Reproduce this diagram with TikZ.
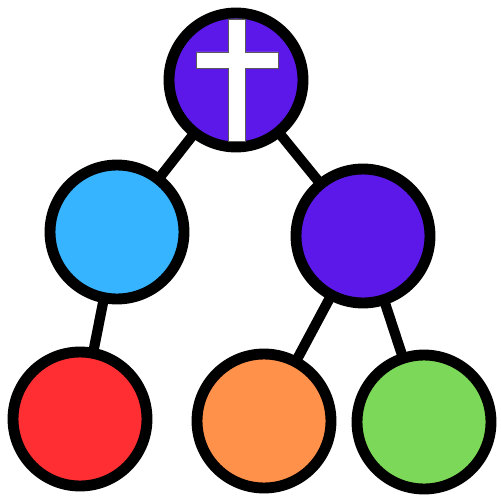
\documentclass[tikz,border=0pt]{standalone}
\usepackage{xcolor}
\usepackage{tikz}
\usetikzlibrary{backgrounds}

\definecolor{treepurple}{HTML}{5B18E9}
\definecolor{treeblue}{HTML}{36B4FF}
\definecolor{treered}{HTML}{FF2E33}
\definecolor{treeorange}{HTML}{FF914A}
\definecolor{treegreen}{HTML}{7CD858}

\begin{document}
\begin{tikzpicture}[
  x=0.02cm, y=-0.02cm,
  ball/.style={circle, draw=black, line width=6.2pt, minimum size=2.68cm, inner sep=0pt},
  link/.style={draw=black, line width=5.8pt},
  crossbar/.style={fill=white, draw=black!65, line width=0.5pt}
]
  \useasboundingbox (0,0) rectangle (500,500);
  \foreach \n/\x/\y/\c in {root/236/80/treepurple, kidl/117/232/treeblue, kidr/363/236/treepurple,
      leafa/80/419/treered, leafb/264/421/treeorange, leafc/424/422/treegreen} {
    \node[ball, fill=\c] (\n) at (\x,\y) {};
  }
  \begin{scope}[on background layer]
    \draw[link] (root.center) -- (kidl.center);
    \draw[link] (root.center) -- (kidr.center);
    \draw[link] (kidl.center) -- (leafa.center);
    \draw[link] (kidr.center) -- (leafb.center);
    \draw[link] (kidr.center) -- (leafc.center);
  \end{scope}
  % cross on the root
  \draw[crossbar] (228,19) -- (245,19) -- (245,52) -- (278,52) -- (278,68) -- (245,68)
    -- (245,141) -- (228,141) -- (228,68) -- (196,68) -- (196,52) -- (228,52) -- cycle;
\end{tikzpicture}
\end{document}
